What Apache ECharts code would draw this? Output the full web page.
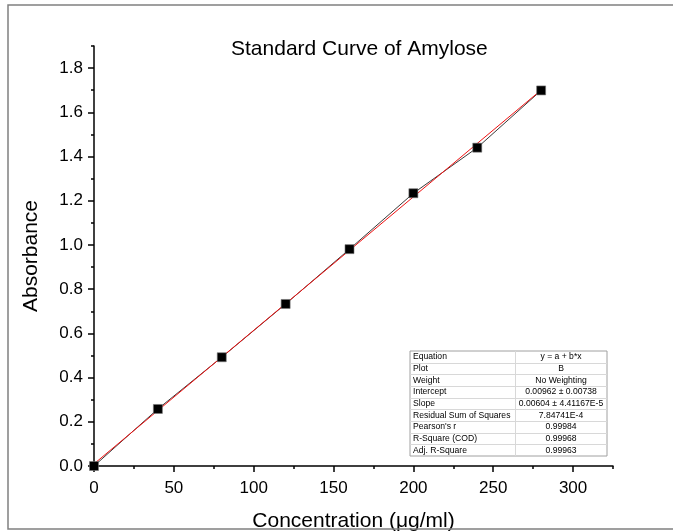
<!DOCTYPE html>
<html>
<head>
<meta charset="utf-8">
<script src="https://cdn.jsdelivr.net/npm/echarts@6/dist/echarts.min.js"></script>
<style>
html,body{margin:0;padding:0;background:#fff;}
#chart{width:673px;height:531px;}
</style>
</head>
<body>
<div id="chart"></div>
<script>
// ---- data ----
const concentration = [0, 40, 80, 120, 160, 200, 240, 280];
const absorbance = [0.0, 0.258, 0.492, 0.733, 0.981, 1.234, 1.440, 1.699];
const fitX = [0, 280];
const fitY = [0.0096, 1.7008];
const xMajorTicks = [0, 50, 100, 150, 200, 250, 300];
const xMinorTicks = [25, 75, 125, 175, 225, 275, 325];
const yMajorTicks = [0, 0.2, 0.4, 0.6, 0.8, 1.0, 1.2, 1.4, 1.6, 1.8];
const yMinorTicks = [0.1, 0.3, 0.5, 0.7, 0.9, 1.1, 1.3, 1.5, 1.7, 1.9];
const tableLabels = ['Equation', 'Plot', 'Weight', 'Intercept', 'Slope', 'Residual Sum of Squares', "Pearson's r", 'R-Square (COD)', 'Adj. R-Square'];
const tableValues = ['y = a + b*x', 'B', 'No Weighting', '0.00962 \u00b1 0.00738', '0.00604 \u00b1 4.41167E-5', '7.84741E-4', '0.99984', '0.99968', '0.99963'];

// ---- layout ----
const FONT = '"Liberation Sans", Arial, sans-serif';
const X_MIN = 0, X_MAX = 325, Y_MIN = 0, Y_MAX = 1.9;
const T = { left: 410, right: 607, top: 351, bottom: 456, divider: 515 };

const chart = echarts.init(document.getElementById('chart'), null, { renderer: 'canvas' });

// table graphic
const rowH = (T.bottom - T.top) / tableLabels.length;
const tableChildren = [];
tableChildren.push({ type: 'rect', shape: { x: T.left, y: T.top, width: T.right - T.left, height: T.bottom - T.top },
  style: { fill: '#fff', stroke: '#a0a0a0', lineWidth: 1 } });
for (let i = 1; i < tableLabels.length; i++) {
  const y = Math.round(T.top + rowH * i) + 0.5;
  tableChildren.push({ type: 'line', shape: { x1: T.left, y1: y, x2: T.right, y2: y }, style: { stroke: '#d8d8d8', lineWidth: 1 } });
}
tableChildren.push({ type: 'line', shape: { x1: T.divider + 0.5, y1: T.top, x2: T.divider + 0.5, y2: T.bottom }, style: { stroke: '#d8d8d8', lineWidth: 1 } });
tableLabels.forEach((lab, i) => {
  const cy = T.top + rowH * (i + 0.5);
  tableChildren.push({ type: 'text', style: { text: lab, x: T.left + 3, y: cy, fill: '#000', font: '8.6px ' + FONT, textAlign: 'left', textVerticalAlign: 'middle' } });
  tableChildren.push({ type: 'text', style: { text: tableValues[i], x: (T.divider + T.right) / 2, y: cy, fill: '#000', font: '8.6px ' + FONT, textAlign: 'center', textVerticalAlign: 'middle' } });
});

const axisLineStyle = { color: '#000', width: 1.5 };

const option = {
  animation: false,
  backgroundColor: '#fff',
  title: {
    text: 'Standard Curve of Amylose',
    left: 226, top: 34,
    textStyle: { fontFamily: FONT, fontSize: 21, fontWeight: 'normal', color: '#000' }
  },
  grid: { left: 94, right: 60, top: 46, bottom: 65, containLabel: false, outerBoundsMode: 'none' },
  xAxis: [
    {
      type: 'value', min: X_MIN, max: X_MAX, position: 'bottom',
      name: 'Concentration (\u03bcg/ml)', nameLocation: 'middle', nameGap: 45,
      nameTextStyle: { fontFamily: FONT, fontSize: 21, color: '#000' },
      axisLine: { show: true, onZero: false, lineStyle: axisLineStyle },
      axisTick: { show: true, inside: false, length: 6, lineStyle: axisLineStyle, customValues: xMajorTicks },
      axisLabel: { show: true, margin: 14, fontFamily: FONT, fontSize: 17, color: '#000', customValues: xMajorTicks,
        formatter: v => String(v) },
      splitLine: { show: false }
    },
    {
      type: 'value', min: X_MIN, max: X_MAX, position: 'bottom',
      axisLine: { show: false, onZero: false },
      axisTick: { show: true, inside: false, length: 3, lineStyle: axisLineStyle, customValues: xMinorTicks },
      axisLabel: { show: false },
      splitLine: { show: false }
    }
  ],
  yAxis: [
    {
      type: 'value', min: Y_MIN, max: Y_MAX, position: 'left',
      name: 'Absorbance', nameLocation: 'middle', nameGap: 52, nameRotate: 90,
      nameTextStyle: { fontFamily: FONT, fontSize: 21, color: '#000' },
      axisLine: { show: true, onZero: false, lineStyle: axisLineStyle },
      axisTick: { show: true, inside: false, length: 6, lineStyle: axisLineStyle, customValues: yMajorTicks },
      axisLabel: { show: true, margin: 11, fontFamily: FONT, fontSize: 17, color: '#000', customValues: yMajorTicks,
        formatter: v => v.toFixed(1) },
      splitLine: { show: false }
    },
    {
      type: 'value', min: Y_MIN, max: Y_MAX, position: 'left',
      axisLine: { show: false, onZero: false },
      axisTick: { show: true, inside: false, length: 3, lineStyle: axisLineStyle, customValues: yMinorTicks },
      axisLabel: { show: false },
      splitLine: { show: false }
    }
  ],
  series: [
    {
      name: 'B', type: 'line', xAxisIndex: 0, yAxisIndex: 0,
      data: concentration.map((x, i) => [x, absorbance[i]]),
      symbol: 'rect', symbolSize: 9, showAllSymbol: true,
      itemStyle: { color: '#000', borderColor: '#777', borderWidth: 0.6 },
      lineStyle: { color: '#3a3a3a', width: 1 },
      clip: true
    },
    {
      name: 'Linear Fit', type: 'line', xAxisIndex: 0, yAxisIndex: 0,
      data: fitX.map((x, i) => [x, fitY[i]]),
      symbol: 'none',
      lineStyle: { color: '#f01010', width: 1 },
      clip: true
    }
  ],
  graphic: [
    { type: 'group', children: tableChildren, z: 100 },
    { type: 'polyline', z: 200, shape: { points: [[673, 5], [8, 5], [8, 529], [673, 529]] },
      style: { stroke: '#808080', lineWidth: 1.5, fill: null } }
  ]
};
chart.setOption(option);
</script>
</body>
</html>
